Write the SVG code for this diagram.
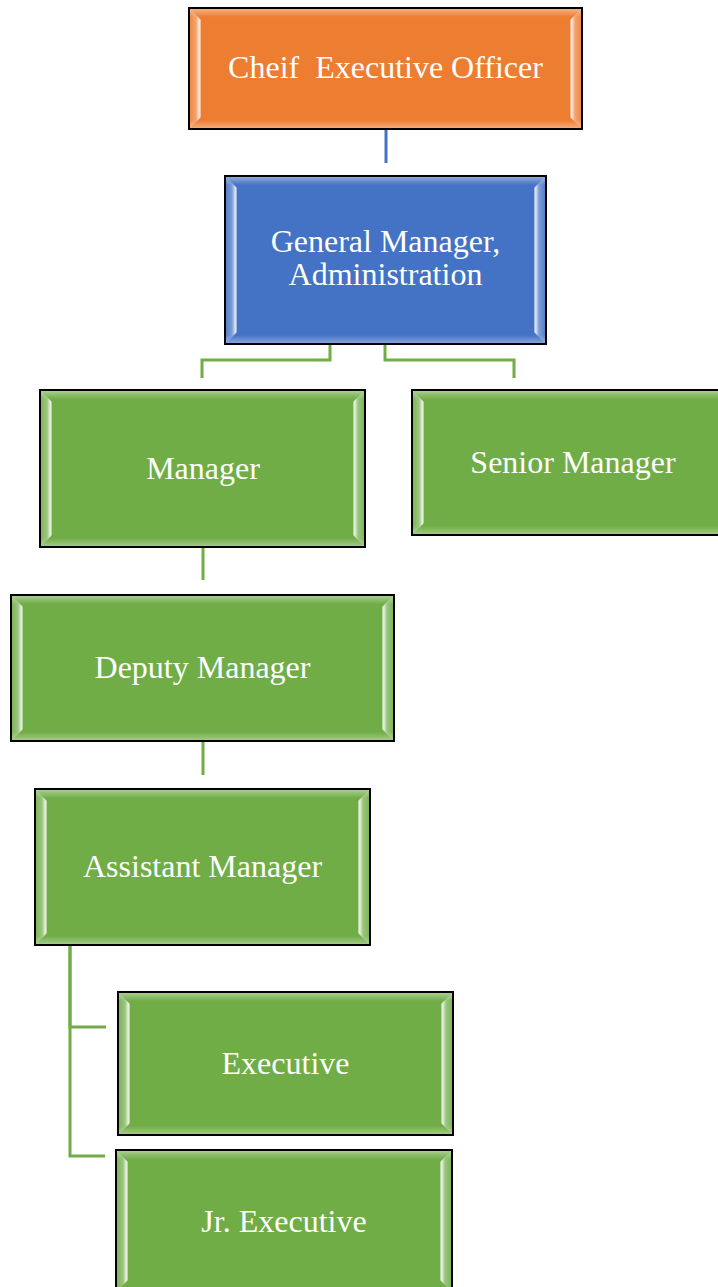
<svg xmlns="http://www.w3.org/2000/svg" width="718" height="1287" viewBox="0 0 718 1287">
<style>
.box{stroke:#000;stroke-width:2}
.o{fill:#ED7D31}.b{fill:#4472C4}.g{fill:#70AD47}
.lbl{font-family:"Liberation Serif","Times New Roman",serif;font-size:32px;fill:#fff;text-anchor:middle;white-space:pre}
.cb{fill:none;stroke:#4472C4;stroke-width:3}
.cg{fill:none;stroke:#70AD47;stroke-width:3}
.bl{fill:url(#bevL)}.br{fill:url(#bevR)}.bt{fill:url(#bevT)}.bb{fill:url(#bevB)}
</style>
<defs>
<linearGradient id="bevL" x1="0" y1="0" x2="1" y2="0">
<stop offset="0" stop-color="#fff" stop-opacity="0.1"/>
<stop offset="0.55" stop-color="#fff" stop-opacity="0.3"/>
<stop offset="0.85" stop-color="#fff" stop-opacity="0.85"/>
<stop offset="1" stop-color="#fff" stop-opacity="0.35"/>
</linearGradient>
<linearGradient id="bevR" x1="1" y1="0" x2="0" y2="0">
<stop offset="0" stop-color="#fff" stop-opacity="0.1"/>
<stop offset="0.55" stop-color="#fff" stop-opacity="0.3"/>
<stop offset="0.85" stop-color="#fff" stop-opacity="0.85"/>
<stop offset="1" stop-color="#fff" stop-opacity="0.35"/>
</linearGradient>
<linearGradient id="bevT" x1="0" y1="0" x2="0" y2="1">
<stop offset="0" stop-color="#fff" stop-opacity="0.4"/>
<stop offset="1" stop-color="#fff" stop-opacity="0"/>
</linearGradient>
<linearGradient id="bevB" x1="0" y1="1" x2="0" y2="0">
<stop offset="0" stop-color="#fff" stop-opacity="0.35"/>
<stop offset="1" stop-color="#fff" stop-opacity="0"/>
</linearGradient>
</defs>

<g id="connectors">
<path class="cb" d="M386,129 V163"/>
<path class="cg" d="M330,344 V360 H202 V378"/>
<path class="cg" d="M385,344 V360 H514 V378"/>
<path class="cg" d="M203,547 V580"/>
<path class="cg" d="M203,741 V775"/>
<path class="cg" d="M70,945 V1027 H106"/>
<path class="cg" d="M70,945 V1156 H105"/>
</g>

<g id="ceo">
<rect class="box o" x="189" y="8" width="393" height="121"/>
<rect class="bt" x="190" y="9" width="391" height="8"/>
<rect class="bb" x="190" y="120" width="391" height="8"/>
<polygon class="bl" points="190,9 201,20 201,117 190,128"/>
<polygon class="br" points="581,9 570,20 570,117 581,128"/>
<text class="lbl" x="385.5" y="77.5">Cheif  Executive Officer</text>
</g>

<g id="gm">
<rect class="box b" x="225" y="176" width="321" height="168"/>
<rect class="bt" x="226" y="177" width="319" height="8"/>
<rect class="bb" x="226" y="335" width="319" height="8"/>
<polygon class="bl" points="226,177 237,188 237,332 226,343"/>
<polygon class="br" points="545,177 534,188 534,332 545,343"/>
<text class="lbl" x="385.5" y="252">General Manager,</text>
<text class="lbl" x="385.5" y="285">Administration</text>
</g>

<g id="manager">
<rect class="box g" x="40" y="390" width="325" height="157"/>
<rect class="bt" x="41" y="391" width="323" height="8"/>
<rect class="bb" x="41" y="538" width="323" height="8"/>
<polygon class="bl" points="41,391 52,402 52,535 41,546"/>
<polygon class="br" points="364,391 353,402 353,535 364,546"/>
<text class="lbl" x="203" y="479">Manager</text>
</g>

<g id="senior-manager">
<rect class="box g" x="412" y="390" width="322" height="145"/>
<rect class="bt" x="413" y="391" width="320" height="8"/>
<rect class="bb" x="413" y="526" width="320" height="8"/>
<polygon class="bl" points="413,391 424,402 424,523 413,534"/>
<polygon class="br" points="733,391 722,402 722,523 733,534"/>
<text class="lbl" x="573" y="472.5">Senior Manager</text>
</g>

<g id="deputy-manager">
<rect class="box g" x="11" y="595" width="383" height="146"/>
<rect class="bt" x="12" y="596" width="381" height="8"/>
<rect class="bb" x="12" y="732" width="381" height="8"/>
<polygon class="bl" points="12,596 23,607 23,729 12,740"/>
<polygon class="br" points="393,596 382,607 382,729 393,740"/>
<text class="lbl" x="202.5" y="678">Deputy Manager</text>
</g>

<g id="assistant-manager">
<rect class="box g" x="35" y="789" width="335" height="156"/>
<rect class="bt" x="36" y="790" width="333" height="8"/>
<rect class="bb" x="36" y="936" width="333" height="8"/>
<polygon class="bl" points="36,790 47,801 47,933 36,944"/>
<polygon class="br" points="369,790 358,801 358,933 369,944"/>
<text class="lbl" x="202.5" y="877">Assistant Manager</text>
</g>

<g id="executive">
<rect class="box g" x="118" y="992" width="335" height="143"/>
<rect class="bt" x="119" y="993" width="333" height="8"/>
<rect class="bb" x="119" y="1126" width="333" height="8"/>
<polygon class="bl" points="119,993 130,1004 130,1123 119,1134"/>
<polygon class="br" points="452,993 441,1004 441,1123 452,1134"/>
<text class="lbl" x="285.5" y="1074">Executive</text>
</g>

<g id="jr-executive">
<rect class="box g" x="116" y="1150" width="336" height="142"/>
<rect class="bt" x="117" y="1151" width="334" height="8"/>
<polygon class="bl" points="117,1151 128,1162 128,1280 117,1291"/>
<polygon class="br" points="451,1151 440,1162 440,1280 451,1291"/>
<text class="lbl" x="284" y="1232">Jr. Executive</text>
</g>
</svg>
